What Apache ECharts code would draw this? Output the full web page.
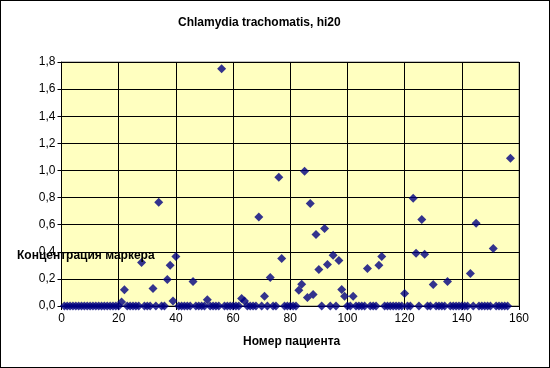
<!DOCTYPE html>
<html><head><meta charset="utf-8">
<script src="https://cdn.jsdelivr.net/npm/echarts@6/dist/echarts.min.js"></script>
<style>html,body{margin:0;padding:0;background:#fff}#c{width:550px;height:368px;box-sizing:border-box;border:1px solid #000}</style>
</head><body><div id="c"></div>
<script>
const titleText = 'Chlamydia trachomatis, hi20';
const xName = 'Номер пациента';
const yName = 'Концентрация маркера';
const patientCount = 157;
const nonZeroX = [21,22,28,32,34,37,38,39,40,46,51,56,63,64,69,71,73,76,77,83,84,85,86,87,88,89,90,92,93,95,97,98,99,102,107,111,112,120,123,124,126,127,130,135,143,145,151,157];
const nonZeroY = [0.03,0.12,0.32,0.13,0.765,0.195,0.30,0.037,0.365,0.18,0.047,1.75,0.055,0.037,0.656,0.072,0.21,0.95,0.35,0.116,0.16,0.994,0.062,0.757,0.084,0.528,0.27,0.572,0.306,0.375,0.336,0.121,0.072,0.072,0.277,0.30,0.365,0.092,0.794,0.39,0.639,0.382,0.158,0.18,0.24,0.61,0.425,1.09];

const data = [];
for (let i = 1; i <= patientCount; i++) {
  const k = nonZeroX.indexOf(i);
  data.push([i, k >= 0 ? nonZeroY[k] : 0]);
}
const font = 'Liberation Sans, Arial, sans-serif';
const chart = echarts.init(document.getElementById('c'));
chart.setOption({
  animation: false,
  grid: { left: 60.5, top: 61, right: 30, bottom: 61, show: true, backgroundColor: '#FFFFC0', borderColor: '#808080', borderWidth: 1 },
  xAxis: {
    type: 'value', min: 0, max: 160, interval: 20,
    axisLine: { show: true, onZero: false, lineStyle: { color: '#000' } },
    axisTick: { show: true, length: 4, lineStyle: { color: '#000' } },
    splitLine: { show: true, lineStyle: { color: '#000', width: 1 } },
    axisLabel: { color: '#000', fontFamily: font, fontSize: 12, margin: 7 }
  },
  yAxis: {
    type: 'value', min: 0, max: 1.8, interval: 0.2,
    axisLine: { show: true, lineStyle: { color: '#000' } },
    axisTick: { show: true, length: 4, lineStyle: { color: '#000' } },
    splitLine: { show: true, lineStyle: { color: '#000', width: 1 } },
    axisLabel: { color: '#000', fontFamily: font, fontSize: 12, margin: 6,
      formatter: v => v.toFixed(1).replace('.', ',') }
  },
  series: [{
    type: 'scatter', data: data, symbol: 'diamond', symbolSize: 9,
    itemStyle: { color: '#000080' }, z: 3
  }],
  graphic: [
    { type: 'text', left: 177, top: 16, z: 100, style: { text: titleText, font: 'bold 12px ' + font, fill: '#000' } },
    { type: 'text', left: 16, top: 249, z: 100, style: { text: yName, font: 'bold 12px ' + font, fill: '#000' } },
    { type: 'text', left: 242, top: 335, z: 100, style: { text: xName, font: 'bold 12px ' + font, fill: '#000' } }
  ]
});
</script></body></html>
